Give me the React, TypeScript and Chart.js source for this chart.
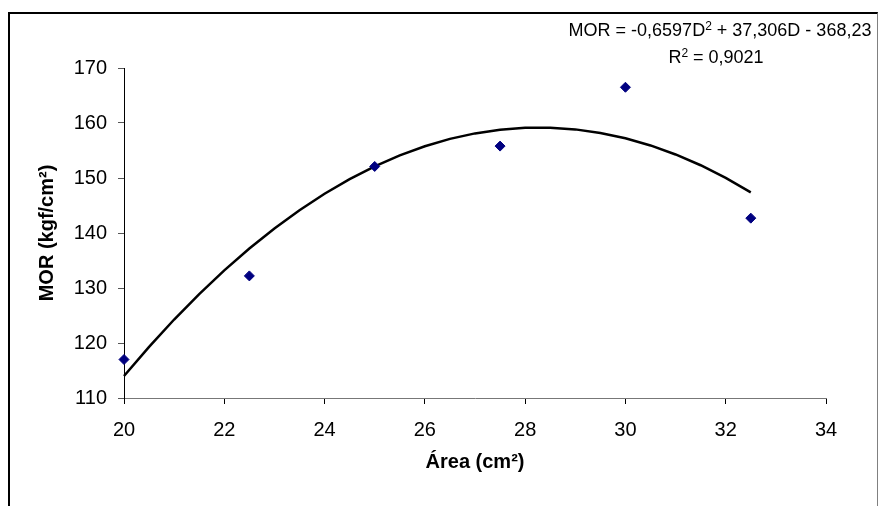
import React, { useEffect, useRef } from "react";
import { Chart, registerables } from "chart.js";

Chart.register(...registerables);

// Measured samples: area (cm²) vs. MOR (kgf/cm²)
const areaValues = [20, 22.5, 25, 27.5, 30, 32.5];
const morValues = [117.0, 132.2, 152.1, 155.8, 166.5, 142.7];

// Polynomial trend line, MOR = -0,6597D² + 37,306D - 368,23, tabulated every 0.5 cm²
const trendArea = [
  20, 20.5, 21, 21.5, 22, 22.5, 23, 23.5, 24, 24.5, 25, 25.5, 26,
  26.5, 27, 27.5, 28, 28.5, 29, 29.5, 30, 30.5, 31, 31.5, 32, 32.5,
];
const trendMor = [
  114.01, 119.3, 124.27, 128.9, 133.21, 137.18, 140.83, 144.14, 147.13,
  149.78, 152.11, 154.1, 155.77, 157.11, 158.11, 158.79, 159.13, 159.15,
  158.84, 158.19, 157.22, 155.92, 154.28, 152.32, 150.03, 147.4,
];

const xTicks = [20, 22, 24, 26, 28, 30, 32, 34];
const yTicks = [110, 120, 130, 140, 150, 160, 170];

const FONT = '"Liberation Sans", Arial, sans-serif';

type Piece = { text: string; sup?: boolean };

const equationLine: Piece[] = [
  { text: "MOR = -0,6597D" },
  { text: "2", sup: true },
  { text: " + 37,306D - 368,23" },
];
const r2Line: Piece[] = [
  { text: "R" },
  { text: "2", sup: true },
  { text: " = 0,9021" },
];

function drawPieces(ctx: CanvasRenderingContext2D, pieces: Piece[], cx: number, baseline: number) {
  const normal = `18px ${FONT}`;
  const small = `12px ${FONT}`;
  let total = 0;
  for (const p of pieces) {
    ctx.font = p.sup ? small : normal;
    total += ctx.measureText(p.text).width;
  }
  let x = cx - total / 2;
  for (const p of pieces) {
    ctx.font = p.sup ? small : normal;
    ctx.fillText(p.text, x, p.sup ? baseline - 6 : baseline);
    x += ctx.measureText(p.text).width;
  }
}

const equationPlugin = {
  id: "trendEquation",
  afterDraw(chart: Chart) {
    const ctx = chart.ctx;
    ctx.save();
    ctx.fillStyle = "#000";
    ctx.textBaseline = "alphabetic";
    ctx.textAlign = "left";
    drawPieces(ctx, equationLine, 710, 22);
    drawPieces(ctx, r2Line, 706, 49);
    ctx.restore();
  },
};

export default function App() {
  const canvasRef = useRef<HTMLCanvasElement | null>(null);

  useEffect(() => {
    if (!canvasRef.current) return;
    const chart = new Chart(canvasRef.current, {
      type: "scatter",
      data: {
        datasets: [
          {
            label: "MOR",
            data: areaValues.map((x, i) => ({ x, y: morValues[i] })),
            backgroundColor: "#000080",
            borderColor: "#000080",
            pointStyle: "rectRot",
            pointRadius: 5,
            borderWidth: 1,
            clip: false,
            order: 1,
          },
          {
            type: "line",
            label: "Tendência",
            data: trendArea.map((x, i) => ({ x, y: trendMor[i] })),
            borderColor: "#000",
            borderWidth: 2.5,
            pointRadius: 0,
            fill: false,
            tension: 0,
            clip: false,
            order: 2,
          },
        ],
      },
      options: {
        animation: false,
        responsive: false,
        devicePixelRatio: 1,
        layout: { padding: { top: 54, right: 51, left: 0, bottom: 0 } },
        plugins: {
          legend: { display: false },
          tooltip: { enabled: false },
        },
        scales: {
          x: {
            type: "linear",
            min: 20,
            max: 34,
            afterFit: (s: any) => {
              s.height = 108;
            },
            afterBuildTicks: (s: any) => {
              s.ticks = xTicks.map((v) => ({ value: v }));
            },
            ticks: {
              color: "#000",
              font: { family: FONT, size: 20 },
              padding: 14,
              maxRotation: 0,
            },
            grid: {
              drawOnChartArea: false,
              drawTicks: true,
              tickLength: 6,
              color: "#000",
            },
            border: { display: true, color: "#777", width: 1 },
            title: {
              display: true,
              text: "Área (cm²)",
              color: "#000",
              font: { family: FONT, size: 20, weight: "bold" },
              padding: { top: 0, bottom: 32 },
            },
          },
          y: {
            min: 110,
            max: 170,
            afterFit: (s: any) => {
              s.width = 114;
            },
            afterBuildTicks: (s: any) => {
              s.ticks = yTicks.map((v) => ({ value: v }));
            },
            ticks: {
              color: "#000",
              font: { family: FONT, size: 20 },
              padding: 11,
            },
            grid: {
              drawOnChartArea: false,
              drawTicks: true,
              tickLength: 6,
              color: "#555",
            },
            border: { display: true, color: "#000", width: 1 },
            title: {
              display: true,
              text: "MOR (kgf/cm²)",
              color: "#000",
              font: { family: FONT, size: 20, weight: "bold" },
              padding: { top: 25, bottom: 0 },
            },
          },
        },
      },
      plugins: [equationPlugin],
    });
    return () => chart.destroy();
  }, []);

  return (
    <div
      style={{
        position: "fixed",
        left: 8,
        top: 12,
        width: 870,
        height: 494,
        boxSizing: "border-box",
        borderTop: "2px solid #000",
        borderLeft: "2px solid #000",
        borderRight: "1px solid #808080",
        background: "#fff",
      }}
    >
      <canvas ref={canvasRef} width={867} height={492} style={{ display: "block" }} />
    </div>
  );
}
